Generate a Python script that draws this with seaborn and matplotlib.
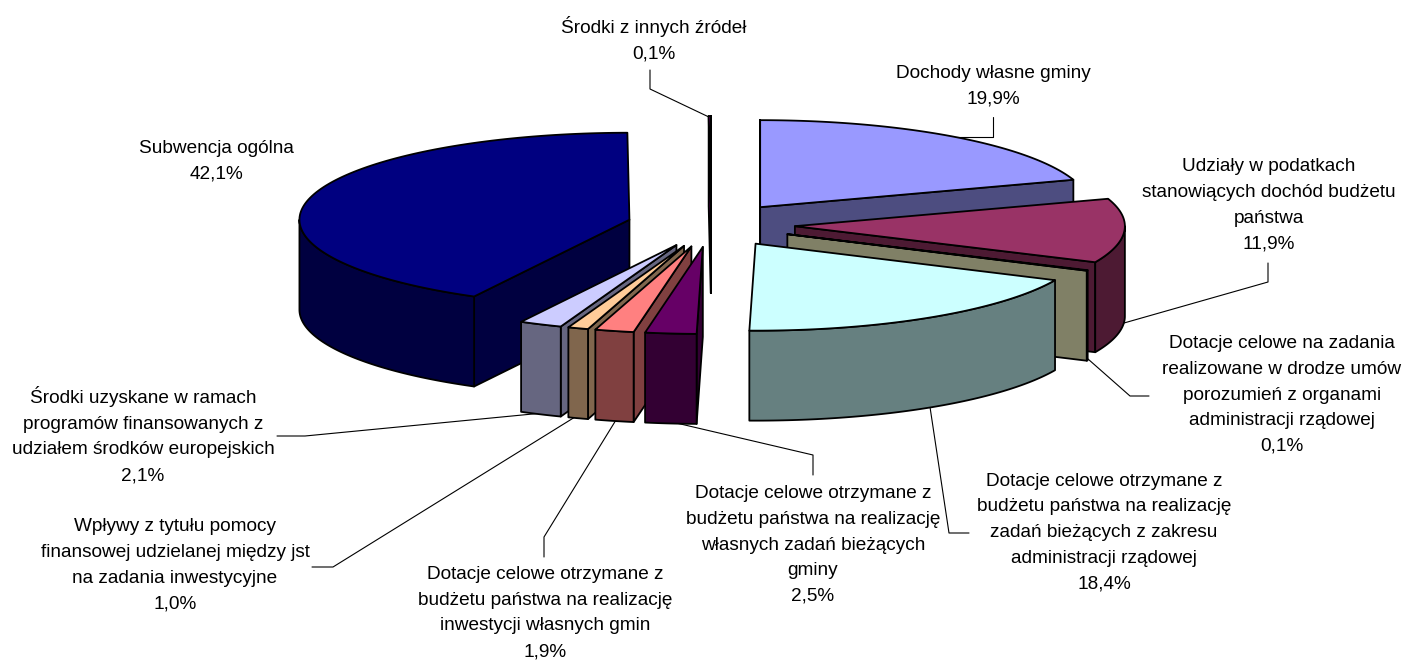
import numpy as np
import matplotlib
matplotlib.use("Agg")
import matplotlib.pyplot as plt
import seaborn as sns

# --- data ---
labels = [
    "Dochody własne gminy",
    "Udziały w podatkach\nstanowiących dochód budżetu\npaństwa",
    "Dotacje celowe na zadania\nrealizowane w drodze umów\nporozumień z organami\nadministracji rządowej",
    "Dotacje celowe otrzymane z\nbudżetu państwa na realizację\nzadań bieżących z zakresu\nadministracji rządowej",
    "Dotacje celowe otrzymane z\nbudżetu państwa na realizację\nwłasnych zadań bieżących\ngminy",
    "Dotacje celowe otrzymane z\nbudżetu państwa na realizację\ninwestycji własnych gmin",
    "Wpływy z tytułu pomocy\nfinansowej udzielanej między jst\nna zadania inwestycyjne",
    "Środki uzyskane w ramach\nprogramów finansowanych z\nudziałem środków europejskich",
    "Subwencja ogólna",
    "Środki z innych źródeł",
]
values = [19.9, 11.9, 0.1, 18.4, 2.5, 1.9, 1.0, 2.1, 42.1, 0.1]
colors = ["#9999FF", "#993366", "#FFFFCC", "#CCFFFF", "#660066",
          "#FF8080", "#FFCC99", "#CCCCFF", "#000080", "#FF00FF"]

# label block centres in figure pixels
label_pos = [(993, 86), (1269, 205.5), (1282, 395), (1104, 532.5), (813, 545),
             (545, 613), (175, 565.5), (143, 435), (216, 161), (654, 39.5)]

# leader lines in figure pixels
leaders = [
    [(993, 117), (993, 137), (955, 137)],
    [(1268, 263), (1268, 282), (1124, 323)],
    [(1149, 396), (1130, 396), (1088, 359)],
    [(969, 533), (949, 533), (930, 407)],
    [(813, 475), (813, 455), (672, 422)],
    [(544, 557), (544, 537), (616, 420)],
    [(312, 567), (333, 567), (575, 417)],
    [(277, 436), (305, 436), (543, 413)],
    [],
    [(650, 70), (650, 89), (711, 118)],
]

# pie geometry
CX, CY = 711, 225
A, B = 330, 87
HEIGHT = 90
EXPLODE_X, EXPLODE_Y = 84, 22
# back to front
draw_order = [9, 0, 8, 1, 2, 7, 6, 5, 4, 3]

sns.set_theme(style="white")
plt.rcParams["font.family"] = ["Liberation Sans", "DejaVu Sans"]

fig, ax = plt.subplots(figsize=(14.05, 6.6), dpi=100)
fig.subplots_adjust(0, 0, 1, 1)
ax.set_xlim(0, 1405)
ax.set_ylim(660, 0)
ax.axis("off")

palette = sns.color_palette(colors)
fracs = np.array(values) / sum(values) * 2 * np.pi
ends = np.cumsum(fracs)
starts = ends - fracs


def rim(ox, oy, t):
    return ox + A * np.sin(t), oy - B * np.cos(t)


def face(xs, ys, color, z):
    ax.fill(xs, ys, facecolor=color, edgecolor="black", linewidth=1.3, joinstyle="round", zorder=z)


for n, i in enumerate(draw_order):
    t1, t2 = starts[i], ends[i]
    mid = (t1 + t2) / 2
    ox = CX + EXPLODE_X * np.sin(mid)
    oy = CY - EXPLODE_Y * np.cos(mid)
    top = palette[i]
    wall = tuple(c * 0.5 for c in top)
    z = 2 + n

    # cut faces, only those turned to the viewer
    for t, visible in ((t1, np.sin(t1) < 0.001), (t2, np.sin(t2) > -0.001)):
        if visible:
            px, py = rim(ox, oy, t)
            face([ox, px, px, ox], [oy, py, py + HEIGHT, oy + HEIGHT], wall, z)

    # outer wall on the front half
    lo, hi = max(t1, np.pi / 2), min(t2, 3 * np.pi / 2)
    if hi > lo:
        arc = np.linspace(lo, hi, 80)
        ax_, ay_ = rim(ox, oy, arc)
        face(np.r_[ax_, ax_[::-1]], np.r_[ay_, ay_[::-1] + HEIGHT], wall, z)

    # top face
    arc = np.linspace(t1, t2, 120)
    rx, ry = rim(ox, oy, arc)
    face(np.r_[ox, rx], np.r_[oy, ry], top, z)

for pts in leaders:
    if pts:
        xs, ys = zip(*pts)
        ax.plot(xs, ys, color="black", linewidth=0.8, zorder=1)

for name, val, (x, y) in zip(labels, values, label_pos):
    txt = name + "\n" + f"{val:.1f}%".replace(".", ",")
    ax.text(x, y, txt, ha="center", va="center", fontsize=13.7, color="black",
            linespacing=1.67, zorder=21)

fig.savefig("out.png", dpi=100)
